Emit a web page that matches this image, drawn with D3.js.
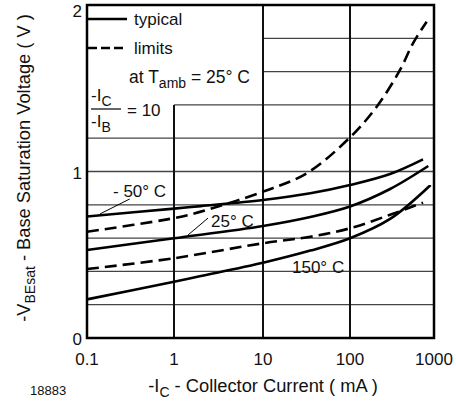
<!DOCTYPE html>
<html><head><meta charset="utf-8">
<script src="https://cdn.jsdelivr.net/npm/d3@7"></script>
<style>
html,body{margin:0;padding:0;background:#fff;}
svg text{font-family:"Liberation Sans",Arial,sans-serif;fill:#111;}
</style></head>
<body>
<svg id="c" width="456" height="401"></svg>
<script>
// ---- data ----
const xTicks = [0.1, 1, 10, 100, 1000];
const xTickLabels = ["0.1", "1", "10", "100", "1000"];
const yTicks = [0, 1, 2];
const yTickLabels = ["0", "1", "2"];
// collector current (mA) / base saturation voltage (V)
const iM50 = [0.1, 1, 2, 10, 35, 100, 300, 740];
const vM50 = [0.73, 0.777, 0.792, 0.829, 0.869, 0.919, 0.985, 1.073];
const iMax = [0.1, 1, 2, 10, 32, 100, 208, 394, 562, 818];
const vMax = [0.638, 0.72, 0.759, 0.879, 0.99, 1.205, 1.389, 1.61, 1.77, 1.90];
const i25 = [0.1, 1, 10, 35, 100, 300, 855];
const v25 = [0.529, 0.599, 0.673, 0.727, 0.79, 0.895, 1.033];
const iMin = [0.1, 1, 10, 35, 100, 300, 740];
const vMin = [0.414, 0.479, 0.569, 0.608, 0.659, 0.74, 0.813];
const i150 = [0.1, 1, 2, 10, 35, 100, 300, 912];
const v150 = [0.232, 0.338, 0.372, 0.452, 0.525, 0.599, 0.715, 0.919];
// grid: horizontal lines (voltage, start current), vertical lines (current, top voltage)
const gridHv = [0.2, 0.4, 0.6, 0.8, 1.0, 1.2, 1.4, 1.6, 1.8];
const gridHfrom = [0.1, 0.1, 0.1, 0.1, 0.1, 0.1, 1, 10, 10];
const gridVi = [1, 10, 100];
const gridVtop = [1.4, 2, 2];

const svg = d3.select("#c");
const x = d3.scaleLog().domain(xTicks).range([87, 174, 263, 350, 434]);
const y = d3.scaleLinear().domain([0, 2]).range([338, 5]);

// grid
const g = svg.append("g");
gridHv.forEach((v, k) => {
  g.append("line").attr("x1", x(gridHfrom[k])).attr("x2", x(1000))
    .attr("y1", y(v)).attr("y2", y(v)).attr("stroke", "#444").attr("stroke-width", 1.3);
});
gridVi.forEach((c, k) => {
  g.append("line").attr("x1", x(c)).attr("x2", x(c))
    .attr("y1", y(gridVtop[k])).attr("y2", y(0)).attr("stroke", "#111").attr("stroke-width", 2);
});
// frame
svg.append("rect").attr("x", x(0.1)).attr("y", y(2))
  .attr("width", x(1000) - x(0.1)).attr("height", y(0) - y(2))
  .attr("fill", "none").attr("stroke", "#000").attr("stroke-width", 2.5);

// curves
const line = d3.line().x(d => x(d[0])).y(d => y(d[1])).curve(d3.curveCatmullRom.alpha(0.5));
const series = [
  [iM50, vM50, null], [iMax, vMax, "12,6"], [i25, v25, null],
  [iMin, vMin, "12,6"], [i150, v150, null]
];
series.forEach(([is, vs, dash]) => {
  svg.append("path").datum(is.map((c, k) => [c, vs[k]]))
    .attr("d", line).attr("fill", "none").attr("stroke", "#000")
    .attr("stroke-width", 2.6).attr("stroke-dasharray", dash);
});

// tick labels
const fs = 17;
xTicks.forEach((t, k) => {
  svg.append("text").attr("x", x(t)).attr("y", 365).attr("text-anchor", "middle")
    .attr("font-size", fs).text(xTickLabels[k]);
});
yTicks.forEach((t, k) => {
  svg.append("text").attr("x", 82).attr("y", Math.max(y(t) + 7, 17)).attr("text-anchor", "end")
    .attr("font-size", fs).text(yTickLabels[k]);
});

// axis titles
const tfs = 18.3;
const xt = svg.append("text").attr("x", 263).attr("y", 392).attr("text-anchor", "middle").attr("font-size", tfs);
xt.append("tspan").text("-I");
xt.append("tspan").attr("font-size", 14).attr("dy", 5).text("C");
xt.append("tspan").attr("dy", -5).text(" - Collector Current ( mA )");

const yt = svg.append("text").attr("transform", "translate(30,168) rotate(-90)")
  .attr("text-anchor", "middle").attr("font-size", tfs);
yt.append("tspan").text("-V");
yt.append("tspan").attr("font-size", 14).attr("dy", 5).text("BEsat");
yt.append("tspan").attr("dy", -5).text("  - Base Saturation Voltage ( V )");

svg.append("text").attr("x", 30).attr("y", 395).attr("font-size", 13).text("18883");

// legend
svg.append("line").attr("x1", 88).attr("x2", 127).attr("y1", 19).attr("y2", 19)
  .attr("stroke", "#000").attr("stroke-width", 2.6);
svg.append("line").attr("x1", 88).attr("x2", 127).attr("y1", 48).attr("y2", 48)
  .attr("stroke", "#000").attr("stroke-width", 2.6).attr("stroke-dasharray", "9,4");
svg.append("text").attr("x", 134).attr("y", 25).attr("font-size", fs).text("typical");
svg.append("text").attr("x", 134).attr("y", 54).attr("font-size", fs).text("limits");
const at = svg.append("text").attr("x", 129).attr("y", 83).attr("font-size", 17.5);
at.append("tspan").text("at T");
at.append("tspan").attr("font-size", 14).attr("dy", 5).text("amb");
at.append("tspan").attr("dy", -5).text("  = 25° C");

// fraction -IC/-IB = 10
const f1 = svg.append("text").attr("x", 91).attr("y", 101).attr("font-size", fs);
f1.append("tspan").text("-I");
f1.append("tspan").attr("font-size", 14).attr("dy", 5).text("C");
svg.append("line").attr("x1", 91).attr("x2", 121).attr("y1", 109).attr("y2", 109)
  .attr("stroke", "#000").attr("stroke-width", 1.2);
svg.append("text").attr("x", 127).attr("y", 116).attr("font-size", fs).text("= 10");
const f2 = svg.append("text").attr("x", 91).attr("y", 127).attr("font-size", fs);
f2.append("tspan").text("-I");
f2.append("tspan").attr("font-size", 14).attr("dy", 5).text("B");

// temperature labels with leaders
svg.append("text").attr("x", 113).attr("y", 197).attr("font-size", fs).text("- 50° C");
svg.append("line").attr("x1", x(0.141)).attr("y1", y(0.745)).attr("x2", x(0.31)).attr("y2", y(0.835))
  .attr("stroke", "#000").attr("stroke-width", 1);
svg.append("text").attr("x", 211).attr("y", 227).attr("font-size", fs).text("25° C");
svg.append("line").attr("x1", x(1.44)).attr("y1", y(0.619)).attr("x2", x(2.41)).attr("y2", y(0.72))
  .attr("stroke", "#000").attr("stroke-width", 1);
svg.append("text").attr("x", 292).attr("y", 273).attr("font-size", fs).text("150° C");
</script>
</body></html>
